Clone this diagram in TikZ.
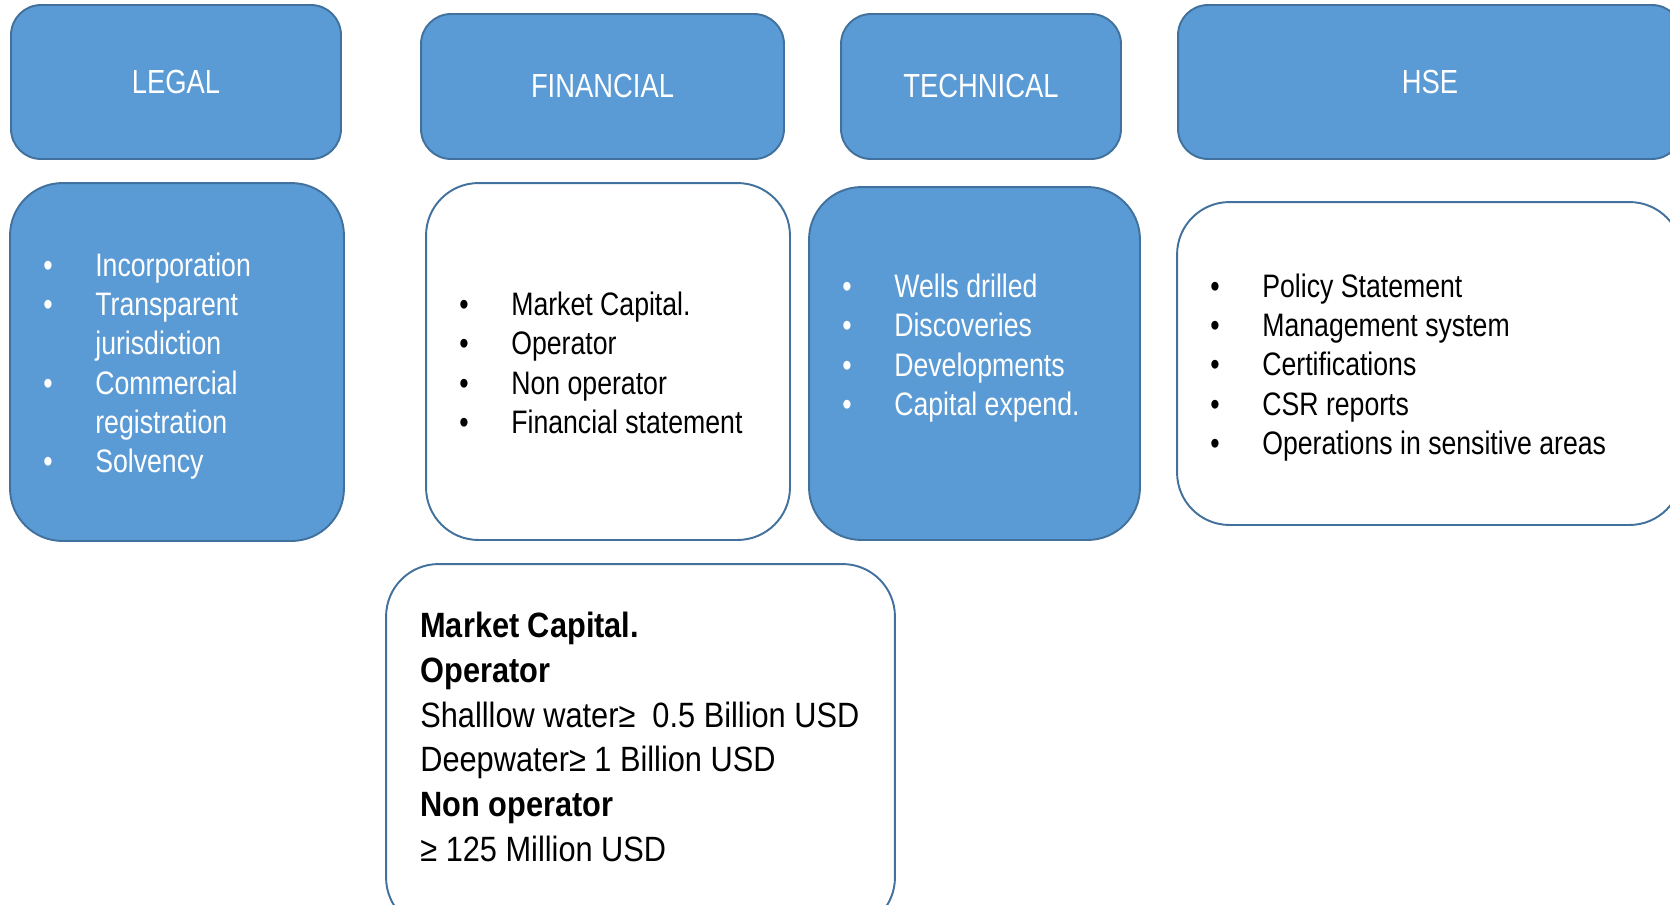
\documentclass[tikz,border=0pt]{standalone}
\usepackage{fontspec}
\setmainfont[FakeStretch=0.82]{Liberation Sans}
\newfontfamily\opfont[FakeStretch=0.875]{Liberation Sans}
\definecolor{boxblue}{HTML}{5B9BD5}
\definecolor{boxline}{HTML}{41719C}
\newcommand{\bl}{\makebox[1.04cm][l]{\textbullet}}
\newcommand{\bk}{\hspace*{1.04cm}}

\begin{document}
\begin{tikzpicture}[x=0.02cm,y=-0.02cm,
  hdr/.style={draw=boxline,line width=1.1pt,fill=boxblue,rounded corners=0.6cm,text=white,font=\fontsize{19}{23}\selectfont},
  body/.style={draw=boxline,line width=1.1pt,rounded corners=1.05cm},
  list/.style={anchor=west,inner sep=0pt,align=left,font=\fontsize{18.5}{22.4}\selectfont}]
  \useasboundingbox (0,0) rectangle (1670,904);
  \clip (0,0) rectangle (1670,904);

  % headers
  \node[hdr,minimum width=6.6cm,minimum height=3.08cm] (legal) at (176,82) {LEGAL};
  \node[hdr,minimum width=7.26cm,minimum height=2.9cm] (financial) at (602.5,86.5) {FINANCIAL};
  \node[hdr,minimum width=5.6cm,minimum height=2.9cm] (technical) at (981,86.5) {TECHNICAL};
  \node[hdr,minimum width=10.08cm,minimum height=3.08cm] (hse) at (1430,82) {HSE};

  % bodies
  \node[body,fill=boxblue,minimum width=6.68cm,minimum height=7.16cm] (legalbody) at (177,362) {};
  \node[body,fill=white,minimum width=7.28cm,minimum height=7.14cm] (finbody) at (608,361.5) {};
  \node[body,fill=boxblue,minimum width=6.62cm,minimum height=7.06cm] (techbody) at (974.5,363.5) {};
  \node[body,fill=white,minimum width=10.1cm,minimum height=6.46cm] (hsebody) at (1429.5,363.5) {};
  \node[body,fill=white,minimum width=10.18cm,minimum height=7.32cm] (opbox) at (640.5,747) {};

  % lists
  \node[list,text=white] (legallist) at (43,366) {\bl Incorporation\\ \bl Transparent\\ \bk jurisdiction\\ \bl Commercial\\ \bk registration\\ \bl Solvency};
  \node[list] (finlist) at (459,363) {\bl Market Capital.\\ \bl Operator\\ \bl Non operator\\ \bl Financial statement};
  \node[list,text=white] (techlist) at (842,348) {\bl Wells drilled\\ \bl Discoveries\\ \bl Developments\\ \bl Capital expend.};
  \node[list] (hselist) at (1210,367.5) {\bl Policy Statement\\ \bl Management system\\ \bl Certifications\\ \bl CSR reports\\ \bl Operations in sensitive areas};

  \node[list,font=\opfont\fontsize{20}{25.5}\selectfont] (oplist) at (420,737) {\textbf{Market Capital.}\\ \textbf{Operator}\\ Shalllow water≥~~0.5 Billion USD\\ Deepwater≥ 1 Billion USD\\ \textbf{Non operator}\\ ≥ 125 Million USD};
\end{tikzpicture}
\end{document}
